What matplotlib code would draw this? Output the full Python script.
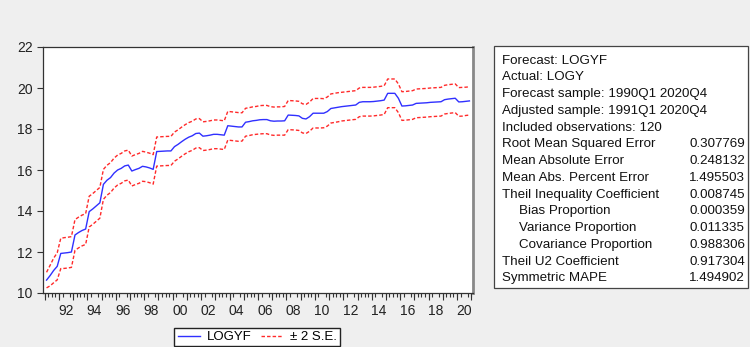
import numpy as np
import matplotlib.pyplot as plt
from matplotlib.patches import Rectangle
from matplotlib.lines import Line2D

plt.rcParams['font.family'] = ['Liberation Sans', 'DejaVu Sans']

# quarterly forecast 1991Q1..2020Q4
logyf = [10.63, 10.85, 11.10, 11.30, 11.93, 11.95, 11.97, 12.00,
         12.83, 12.95, 13.05, 13.12, 13.97, 14.10, 14.25, 14.40,
         15.30, 15.50, 15.63, 15.85, 16.00, 16.08, 16.20, 16.24,
         15.95, 16.02, 16.08, 16.18, 16.15, 16.10, 16.03, 16.90,
         16.91, 16.92, 16.93, 16.93, 17.14, 17.25, 17.38, 17.50,
         17.60, 17.67, 17.78, 17.80, 17.65, 17.67, 17.70, 17.74,
         17.74, 17.72, 17.70, 18.16, 18.14, 18.12, 18.10, 18.10,
         18.33, 18.36, 18.40, 18.42, 18.45, 18.46, 18.46, 18.40,
         18.38, 18.39, 18.39, 18.40, 18.68, 18.67, 18.66, 18.64,
         18.52, 18.49, 18.60, 18.77, 18.77, 18.77, 18.77, 18.85,
         19.00, 19.03, 19.06, 19.09, 19.11, 19.13, 19.15, 19.17,
         19.30, 19.33, 19.33, 19.33, 19.34, 19.36, 19.38, 19.41,
         19.74, 19.74, 19.74, 19.50, 19.12, 19.13, 19.15, 19.17,
         19.25, 19.26, 19.27, 19.28, 19.30, 19.31, 19.32, 19.33,
         19.43, 19.46, 19.48, 19.50, 19.32, 19.33, 19.35, 19.37]

# 2 x standard error
se2 = [0.38, 0.50, 0.60, 0.66, 0.74, 0.75, 0.75, 0.75,
       0.75, 0.75, 0.75, 0.75, 0.75, 0.75, 0.75, 0.75,
       0.73, 0.73, 0.73, 0.73, 0.73, 0.73, 0.73, 0.73,
       0.73, 0.73, 0.73, 0.73, 0.72, 0.72, 0.72, 0.71,
       0.71, 0.71, 0.71, 0.71, 0.71, 0.71, 0.71, 0.71,
       0.71, 0.71, 0.71, 0.71, 0.70, 0.70, 0.70, 0.70,
       0.70, 0.70, 0.70, 0.70, 0.70, 0.70, 0.70, 0.69,
       0.68, 0.68, 0.68, 0.68, 0.69, 0.69, 0.69, 0.69,
       0.69, 0.69, 0.69, 0.70, 0.71, 0.71, 0.71, 0.71,
       0.71, 0.71, 0.71, 0.72, 0.72, 0.72, 0.71, 0.71,
       0.71, 0.71, 0.71, 0.70, 0.70, 0.70, 0.70, 0.70,
       0.70, 0.70, 0.70, 0.70, 0.70, 0.70, 0.70, 0.70,
       0.70, 0.70, 0.70, 0.70, 0.70, 0.70, 0.70, 0.70,
       0.70, 0.70, 0.70, 0.70, 0.70, 0.70, 0.70, 0.70,
       0.70, 0.70, 0.70, 0.70, 0.70, 0.70, 0.69, 0.69]

label_years = list(range(1992, 2021, 2))

stat_names = ["Forecast: LOGYF", "Actual: LOGY", "Forecast sample: 1990Q1 2020Q4",
              "Adjusted sample: 1991Q1 2020Q4", "Included observations: 120",
              "Root Mean Squared Error", "Mean Absolute Error",
              "Mean Abs. Percent Error", "Theil Inequality Coefficient",
              "Bias Proportion", "Variance Proportion", "Covariance Proportion",
              "Theil U2 Coefficient", "Symmetric MAPE"]
stat_vals = ["", "", "", "", "", "0.307769", "0.248132", "1.495503", "0.008745",
             "0.000359", "0.011335", "0.988306", "0.917304", "1.494902"]
indented = [9, 10, 11]

W, H = 750, 347
fig = plt.figure(figsize=(7.5, 3.47), dpi=100, facecolor='#efefef')
ax = fig.add_axes([43/W, 1-293/H, 430/W, 246/H])

x = np.arange(len(logyf))
f = np.array(logyf)
s = np.array(se2)
ax.plot(x, f, color='#3030ff', lw=1.0)
ax.plot(x, f + s, color='#ff2a2a', lw=1.0, ls=(0, (2.5, 1.5)))
ax.plot(x, f - s, color='#ff2a2a', lw=1.0, ls=(0, (2.5, 1.5)))

ax.set_xlim(-1, 120)
ax.set_ylim(10, 22)
ax.set_yticks(np.arange(10, 23, 2))
ax.set_xticks([4*(y-1991)+1.5 for y in label_years])
ax.set_xticklabels([str(y)[2:] for y in label_years])
ax.set_xticks(np.arange(-0.5, 120, 1), minor=True)
ax.tick_params(axis='x', which='major', length=0, pad=8, labelsize=10, labelcolor='#222222')
ax.tick_params(axis='x', which='minor', length=3, width=0.8, color='#333333')
ax.tick_params(axis='y', length=4, width=0.8, color='#333333', labelsize=10, labelcolor='#222222')

sec = ax.secondary_xaxis('bottom')
sec.set_xticks(np.arange(-0.5, 120, 4))
sec.set_xticklabels([])
sec.tick_params(length=5, width=0.8, color='#333333')
sec.spines['bottom'].set_visible(False)

for side in ['left', 'bottom', 'top']:
    ax.spines[side].set_color('#333333')
    ax.spines[side].set_linewidth(0.9)
ax.spines['right'].set_color('#888888')
ax.spines['right'].set_linewidth(2.0)

handles = [Line2D([], [], color='#3030ff', lw=1.0),
           Line2D([], [], color='#ff2a2a', lw=1.0, ls=(0, (2.5, 1.5)))]
fig.legend(handles, ['LOGYF', '\u00b1 2 S.E.'], loc='center',
           bbox_to_anchor=(257/W, 1-337/H), ncol=2, frameon=True, fancybox=False,
           edgecolor='#222222', framealpha=1, fontsize=9.5, handlelength=1.7,
           handletextpad=0.5, columnspacing=0.7, borderpad=0.25, borderaxespad=0)

# stats box
fig.patches.append(Rectangle((494/W, 1-288/H), 254/W, 242/H, transform=fig.transFigure,
                             facecolor='white', edgecolor='#444444', lw=0.9))
for k, (name, val) in enumerate(zip(stat_names, stat_vals)):
    yy = 1 - (60.7 + k*16.75)/H
    xx = 519/W if k in indented else 501.5/W
    fig.text(xx, yy, name, fontsize=9.6, va='center', ha='left', color='#111111')
    if val:
        fig.text(745/W, yy, val, fontsize=9.6, va='center', ha='right', color='#111111')

fig.savefig('out.png', dpi=100, facecolor=fig.get_facecolor())
